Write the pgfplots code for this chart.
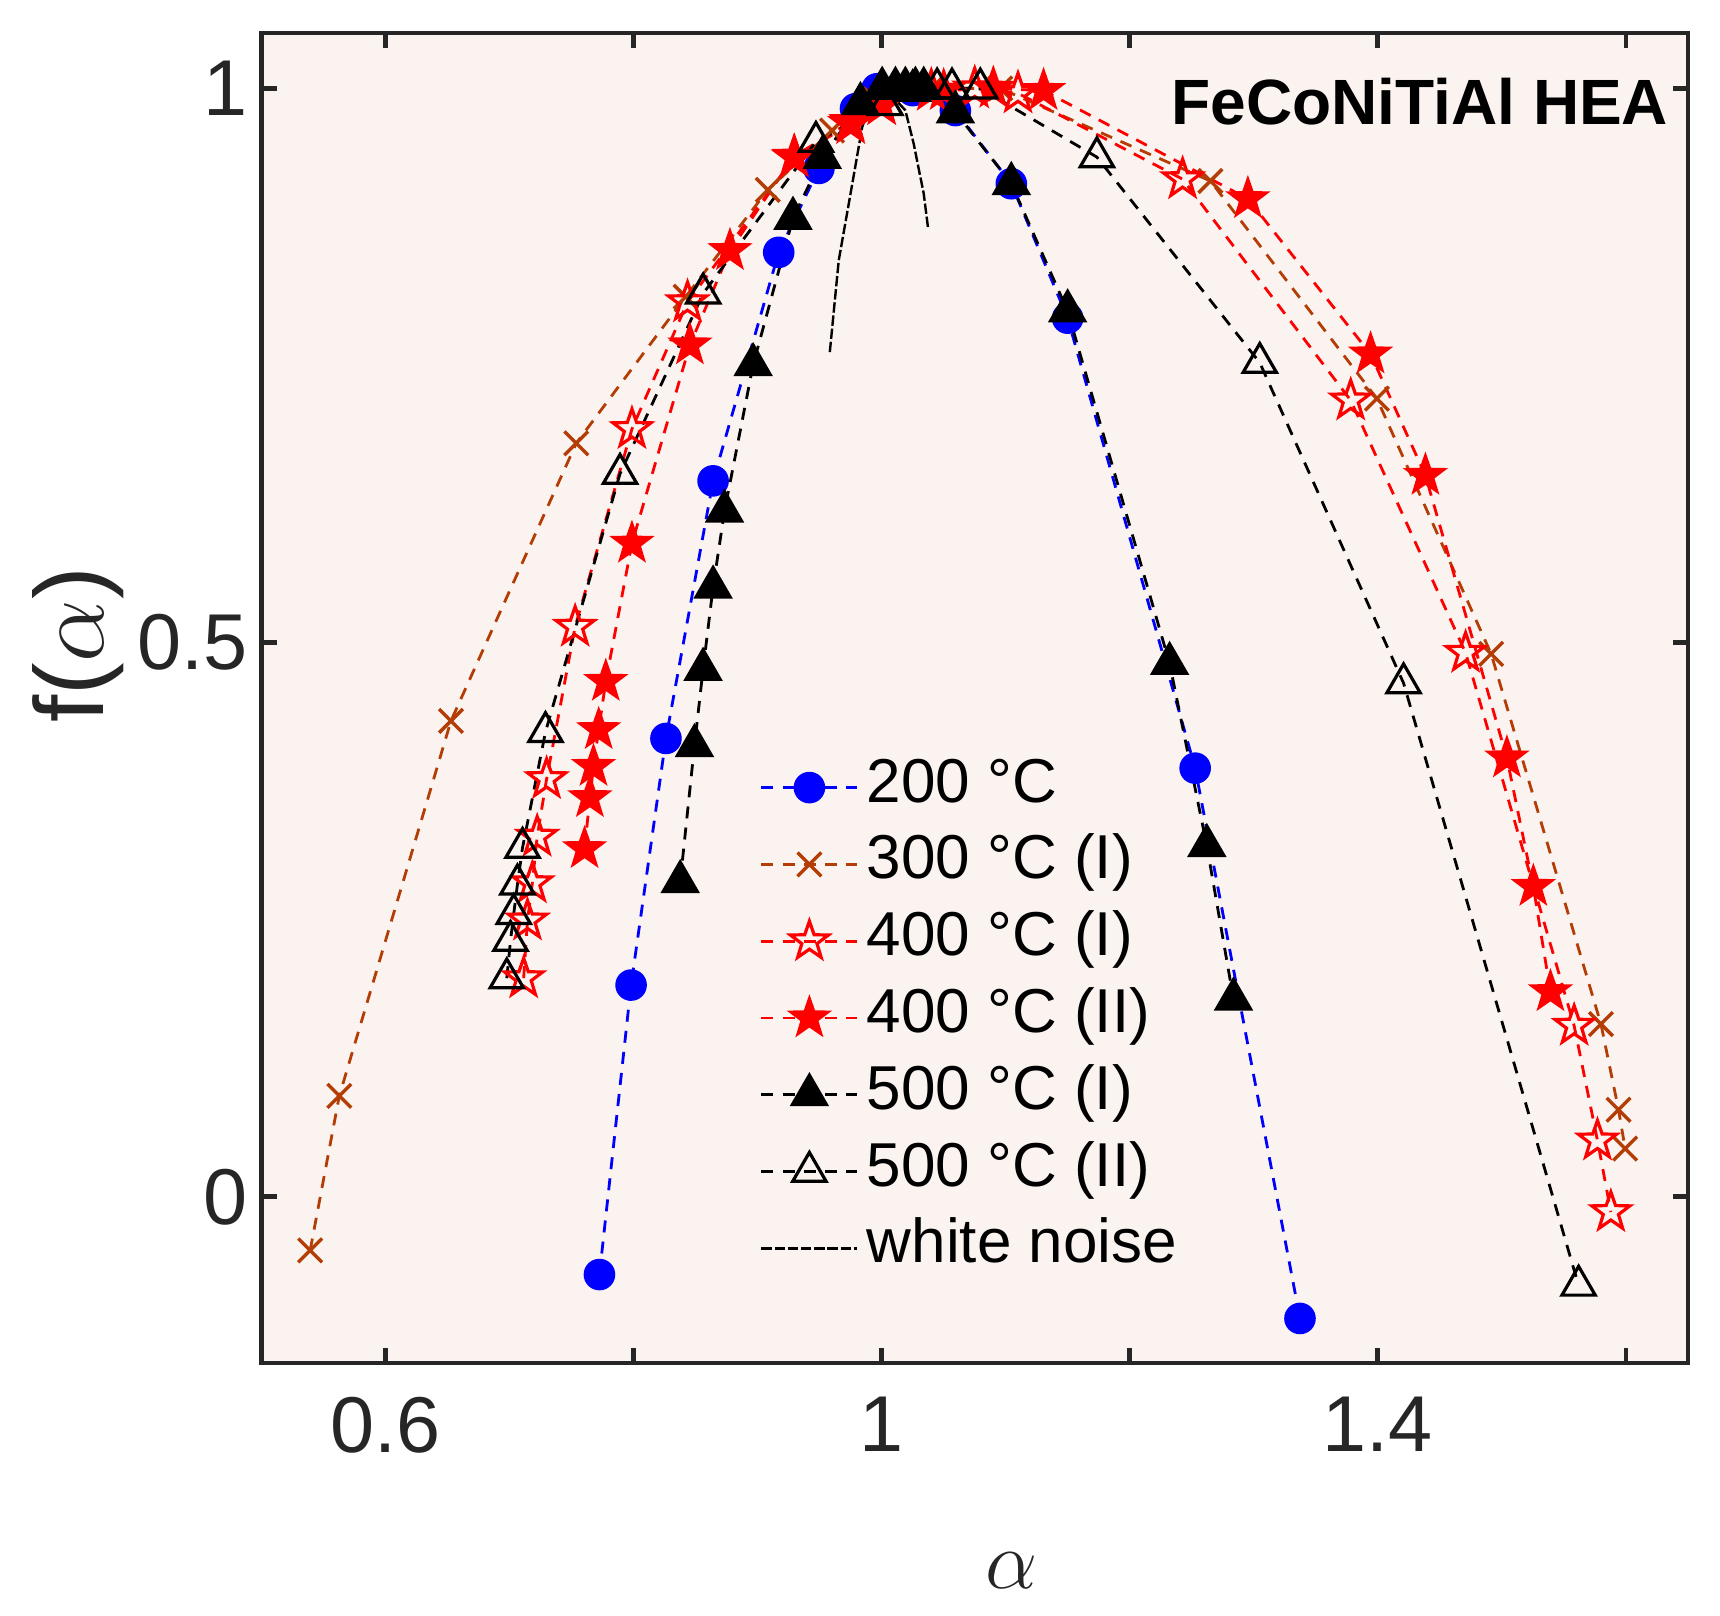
\documentclass[border=0pt]{standalone}
\usepackage{fontspec}
\setmainfont{Liberation Sans}
\usepackage{pgfplots}
\pgfplotsset{compat=1.18}

\definecolor{bgc}{RGB}{250,243,240}
\definecolor{brn}{RGB}{180,60,5}
\definecolor{axc}{RGB}{38,38,38}

% five-pointed star marks (open and filled)
\pgfdeclareplotmark{ostar}{%
  \pgfpathmoveto{\pgfpointpolar{90}{\pgfplotmarksize}}%
  \pgfpathlineto{\pgfpointpolar{126}{0.4\pgfplotmarksize}}%
  \pgfpathlineto{\pgfpointpolar{162}{\pgfplotmarksize}}%
  \pgfpathlineto{\pgfpointpolar{198}{0.4\pgfplotmarksize}}%
  \pgfpathlineto{\pgfpointpolar{234}{\pgfplotmarksize}}%
  \pgfpathlineto{\pgfpointpolar{270}{0.4\pgfplotmarksize}}%
  \pgfpathlineto{\pgfpointpolar{306}{\pgfplotmarksize}}%
  \pgfpathlineto{\pgfpointpolar{342}{0.4\pgfplotmarksize}}%
  \pgfpathlineto{\pgfpointpolar{18}{\pgfplotmarksize}}%
  \pgfpathlineto{\pgfpointpolar{54}{0.4\pgfplotmarksize}}%
  \pgfpathclose
  \pgfusepathqstroke}
\pgfdeclareplotmark{fstar}{%
  \pgfpathmoveto{\pgfpointpolar{90}{\pgfplotmarksize}}%
  \pgfpathlineto{\pgfpointpolar{126}{0.4\pgfplotmarksize}}%
  \pgfpathlineto{\pgfpointpolar{162}{\pgfplotmarksize}}%
  \pgfpathlineto{\pgfpointpolar{198}{0.4\pgfplotmarksize}}%
  \pgfpathlineto{\pgfpointpolar{234}{\pgfplotmarksize}}%
  \pgfpathlineto{\pgfpointpolar{270}{0.4\pgfplotmarksize}}%
  \pgfpathlineto{\pgfpointpolar{306}{\pgfplotmarksize}}%
  \pgfpathlineto{\pgfpointpolar{342}{0.4\pgfplotmarksize}}%
  \pgfpathlineto{\pgfpointpolar{18}{\pgfplotmarksize}}%
  \pgfpathlineto{\pgfpointpolar{54}{0.4\pgfplotmarksize}}%
  \pgfpathclose
  \pgfusepathqfillstroke}

\begin{document}
\begin{tikzpicture}
\useasboundingbox (-65.35pt,-63pt) rectangle (364.65pt,340.75pt);
\begin{axis}[
    scale only axis,
    width=356.65pt, height=332.5pt,
    xmin=0.5, xmax=1.65, ymin=-0.15, ymax=1.05,
    xtick={0.6,0.8,1,1.2,1.4,1.6},
    xticklabels={0.6,,1,,1.4,},
    ytick={0,0.5,1},
    axis background/.style={fill=bgc},
    axis line style={line width=1.2pt, axc},
    tick style={line width=1.2pt, axc},
    major tick length=3.8pt,
    tick align=inside,
    ticklabel style={font=\fontsize{19.8}{23}\selectfont, text=axc},
    /pgf/number format/assume math mode=true,
    xticklabel style={yshift=-5pt},
    xlabel={$\alpha$},
    xlabel style={at={(rel axis cs:0.526,-0.1692)}, anchor=base,
                  font=\fontsize{22}{26}\selectfont, text=axc},
    ylabel={f($\alpha$)},
    ylabel style={at={(rel axis cs:-0.111,0.54)}, anchor=base,
                  font=\fontsize{24.5}{28}\selectfont, text=axc},
    clip=false,
    legend cell align=left,
    legend style={draw=none, fill=none,
                  at={(rel axis cs:0.3495,0.4615)}, anchor=north west,
                  inner sep=0pt, outer sep=0pt, row sep=0pt,
                  font=\fontsize{15.5}{18}\selectfont,
                  nodes={inner xsep=2pt, inner ysep=0pt,
                         text height=13.2pt, text depth=6pt}},
    legend image code/.code={%
      \draw[mark repeat=2,mark phase=2]
        plot coordinates {(0pt,0pt) (12pt,0pt) (24pt,0pt)};},
    every axis plot/.append style={line width=0.7pt},
    dsh/.style={dash pattern=on 3pt off 2.3pt},
]

% 200 C
\addplot[color=blue, dsh, mark=*, mark size=3.6pt,
         mark options={solid, fill=blue, draw=blue}] coordinates {
  (0.7725,-0.0702) (0.798,0.191) (0.8261,0.4135) (0.8641,0.6459)
  (0.917,0.8521) (0.9494,0.9278) (0.9789,0.9817) (0.9963,0.9997)
  (1.025,0.998) (1.0594,0.980) (1.1045,0.914) (1.1499,0.7927)
  (1.2527,0.3867) (1.3372,-0.1098)
};
\addlegendentry{200 °C}

% 300 C (I)
\addplot[color=brn, dsh, mark=x, mark size=4.2pt,
         mark options={solid, line width=0.85pt}] coordinates {
  (0.5393,-0.0484) (0.5628,0.091) (0.6528,0.4293) (0.7538,0.6798)
  (0.842,0.812) (0.9082,0.9084) (0.96,0.962) (0.995,0.99)
  (1.04,1.0) (1.0956,1.0) (1.265,0.9165) (1.3992,0.7201)
  (1.4913,0.4898) (1.5798,0.1558) (1.594,0.0785) (1.5993,0.0435)
};
\addlegendentry{300 °C (I)}

% 400 C (I)
\addplot[color=red, dsh, mark=ostar, mark size=5pt,
         mark options={solid, line width=0.8pt}] coordinates {
  (0.7114,0.1972) (0.7145,0.2493) (0.7184,0.2829) (0.7223,0.3249)
  (0.7299,0.3769) (0.7529,0.5143) (0.7987,0.6927) (0.8435,0.8071)
  (0.9297,0.9377) (0.975,0.968) (1.0,0.985) (1.04,0.998)
  (1.075,1.0) (1.1099,0.9956) (1.2426,0.9181) (1.3781,0.7185)
  (1.4707,0.4908) (1.5582,0.1543) (1.577,0.0508) (1.5878,-0.0138)
};
\addlegendentry{400 °C (I)}

% 400 C (II)
\addplot[color=red, dsh, mark=fstar, mark size=5.2pt,
         mark options={solid, fill=red, line width=0.5pt}] coordinates {
  (0.7605,0.314) (0.7648,0.36) (0.7677,0.3882) (0.7719,0.4214)
  (0.7776,0.4649) (0.7987,0.5895) (0.8454,0.7685) (0.8777,0.8536)
  (0.9294,0.9387) (0.975,0.97) (1.0,0.985) (1.05,0.998)
  (1.09,1.0) (1.1305,0.998) (1.2952,0.9004) (1.3941,0.7603)
  (1.4383,0.6508) (1.504,0.3958) (1.5253,0.2799) (1.5391,0.1849)
};
\addlegendentry{400 °C (II)}

% 500 C (I)
\addplot[color=black, dsh, mark=triangle*, mark size=5pt,
         mark options={solid, fill=black}] coordinates {
  (0.8376,0.2843) (0.8491,0.407) (0.856,0.4758) (0.8641,0.55)
  (0.8733,0.6186) (0.8964,0.7507) (0.9285,0.8827) (0.9521,0.9377)
  (0.9829,0.9862) (1.0004,1.0) (1.0111,1.0) (1.0191,1.0)
  (1.0272,1.0) (1.0339,1.0) (1.0594,0.9788) (1.1045,0.9141)
  (1.1499,0.7992) (1.2321,0.4811) (1.2621,0.3168) (1.2836,0.1783)
};
\addlegendentry{500 °C (I)}

% 500 C (II)
\addplot[color=black, dsh, mark=triangle, mark size=4.8pt,
         mark options={solid, line width=0.8pt}] coordinates {
  (0.6978,0.1972) (0.7008,0.231) (0.7034,0.2552) (0.7064,0.2819)
  (0.7105,0.3149) (0.729,0.4194) (0.7891,0.6524) (0.8561,0.815)
  (0.947,0.9519) (1.003,0.985) (1.025,0.998) (1.0447,1.0)
  (1.0567,1.0) (1.0795,1.0) (1.1735,0.938) (1.3048,0.7525)
  (1.4207,0.4634) (1.5618,-0.0801)
};
\addlegendentry{500 °C (II)}

% white noise
\addplot[color=black, line width=0.6pt,
         dash pattern=on 2.6pt off 0.7pt] coordinates {
  (0.9582,0.7621) (0.9654,0.8449) (0.9749,0.905) (0.9843,0.9651)
  (0.991,0.9865) (1.0044,0.9982) (1.0191,0.9802) (1.0258,0.9501)
  (1.0339,0.905) (1.0373,0.8748)
};
\addlegendentry{white noise}

\node[anchor=north east, inner sep=0pt,
      font=\bfseries\fontsize{16}{19}\selectfont]
  at (rel axis cs:0.9867,0.9669) {FeCoNiTiAl HEA};
\end{axis}
\end{tikzpicture}
\end{document}
